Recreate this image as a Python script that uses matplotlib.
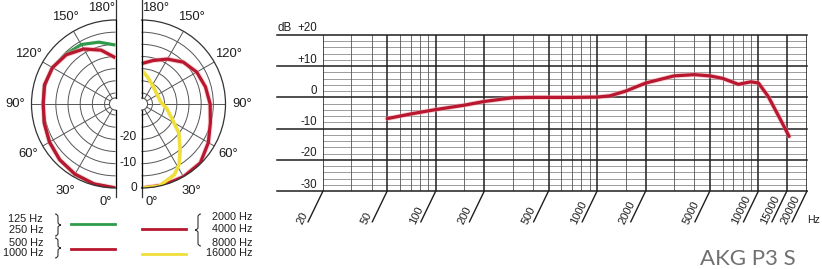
import numpy as np
import matplotlib
matplotlib.use("Agg")
import matplotlib.pyplot as plt
from matplotlib.lines import Line2D
from matplotlib.path import Path
from matplotlib.patches import PathPatch
from matplotlib.ticker import NullLocator

W, H = 822, 269

# frequency response (Hz, dB)
freq = [50, 70, 100, 150, 200, 300, 400, 500, 700, 1000, 1200, 1500, 2000,
        3000, 4000, 5000, 6000, 7500, 9000, 10000, 11500, 13500, 15500]
level = [-6.8, -5.3, -3.9, -2.5, -1.3, -0.1, 0, 0, 0, 0.1, 0.5, 2.0, 4.6,
         6.9, 7.3, 6.9, 6.1, 4.2, 5.0, 4.6, 0.3, -6.5, -12.5]

major_freqs = [20, 50, 100, 200, 500, 1000, 2000, 5000, 10000, 15000, 20000]
minor_freqs = [30, 40, 60, 70, 80, 90, 150, 300, 400, 600, 700, 800, 900,
               1500, 3000, 4000, 6000, 7000, 8000, 9000]
db_major = [20, 10, 0, -10, -20, -30]
db_labels = ["+20", "+10", "0", "-10", "-20", "-30"]

# polar patterns (angle in degrees from front, level in dB)
ang_left = [0, 15, 30, 45, 60, 75, 90, 105, 120, 135, 150, 165, 180]
db_125_250 = [0, -0.5, -1.2, -2.1, -3.2, -4.2, -4.8, -4.3, -4.6, -5.6, -6.3, -8.2, -10.3]
db_500_1000 = [0, -0.5, -1.2, -2.1, -3.2, -4.2, -4.8, -4.3, -4.6, -5.9, -8.4, -11.6, -15.5]
ang_right = [0, 15, 30, 45, 60, 75, 90, 105, 120, 135, 150, 165, 180]
db_2k_8k = [0, 0, 0, -0.3, -2.8, -5.2, -6.3, -7.3, -8.3, -10.2, -13.2, -16.0, -17.9]
ang_16k = [0, 12, 25, 32, 40, 52, 63, 80, 95, 110, 130, 150, 168, 180]
db_16k = [0, 0, -2.5, -5.3, -9.8, -15, -20.2, -24, -26.5, -27, -26.8, -25.5, -23, -20.5]

RED = "#b8172f"
GREEN = "#2e9a4a"
YELLOW = "#f0df3a"
INK = "#1e1e1e"

plt.rcParams['font.family'] = ['Liberation Sans', 'DejaVu Sans']

fig = plt.figure(figsize=(W / 100, H / 100), dpi=100)
fig.patch.set_facecolor("white")


def fx(x):
    return x / W


def fy(y):
    return 1 - y / H


# ---------- polar diagrams ----------
R = 84
def make_polar(cx, cy, direction):
    frac = 0.75 if direction == -1 else 0.25
    left = cx - frac * 2 * R
    ax = fig.add_axes([fx(left), fy(cy + R), 2 * R / W, 2 * R / H], projection="polar")
    ax.set_theta_zero_location("S")
    ax.set_theta_direction(direction)
    ax.set_thetamin(0)
    ax.set_thetamax(180)
    ax.set_rorigin(-34.5)
    ax.set_rlim(-32, 0)
    ax.set_rgrids([-30, -25, -20, -15, -10, -5], labels=[])
    ax.set_thetagrids([30, 60, 90, 120, 150], labels=[])
    ax.grid(color="#555555", lw=0.7)
    ax.spines["polar"].set_color("#333333")
    ax.spines["polar"].set_linewidth(0.9)
    ax.spines["inner"].set_color("#555555")
    ax.spines["start"].set_visible(False)
    ax.spines["end"].set_visible(False)
    ax.patch.set_alpha(0)
    ax.plot([0, 0], [-32, 3.7], color="#333333", lw=0.9, clip_on=False)
    ax.plot([np.pi, np.pi], [-32, 8.2], color="#333333", lw=0.9, clip_on=False)
    for a in [30, 60, 90, 120, 150]:
        ax.text(np.radians(a), 6.8, f"{a}°", ha="center", va="center",
                fontsize=9.4, color=INK, clip_on=False)
    return ax


axl = make_polar(115.5, 104, -1)
axl.plot(np.radians(ang_left), db_125_250, color=GREEN, lw=2.3, solid_capstyle="butt")
axl.plot(np.radians(ang_left), db_500_1000, color="#f2a0a8", lw=3.6, alpha=0.5)
axl.plot(np.radians(ang_left), db_500_1000, color=RED, lw=2.3, solid_capstyle="butt")

axr = make_polar(141.5, 104, 1)
axr.plot(np.radians(ang_right), db_2k_8k, color="#f2a0a8", lw=3.6, alpha=0.5)
axr.plot(np.radians(ang_right), db_2k_8k, color=RED, lw=2.3, solid_capstyle="butt")
axr.plot(np.radians(ang_16k), db_16k, color=YELLOW, lw=2.6, solid_capstyle="butt")

fig.text(fx(102), fy(8), "180°", ha="center", va="center", fontsize=9.4, color=INK)
fig.text(fx(106), fy(202), "0°", ha="center", va="center", fontsize=9.4, color=INK)
fig.text(fx(156), fy(8), "180°", ha="center", va="center", fontsize=9.4, color=INK)
fig.text(fx(152), fy(202), "0°", ha="center", va="center", fontsize=9.4, color=INK)
for v, yy in zip(["-20", "-10", "0"], [137, 163, 188]):
    fig.text(fx(137), fy(yy), v, ha="right", va="center", fontsize=8.6, color=INK)

# ---------- legend ----------
for txt, yy in zip(["125 Hz", "250 Hz", "500 Hz", "1000 Hz"], [219, 230, 243, 253]):
    fig.text(fx(43), fy(yy), txt, ha="right", va="center", fontsize=7.8, color=INK)
for txt, yy in zip(["2000 Hz", "4000 Hz", "8000 Hz", "16000 Hz"], [217, 229, 243, 253]):
    fig.text(fx(252), fy(yy), txt, ha="right", va="center", fontsize=7.8, color=INK)

for x0, x1, yy, c in [(71, 115, 224, GREEN), (71, 115, 249, RED),
                      (142, 186, 229, RED), (142, 186, 254, YELLOW)]:
    fig.add_artist(Line2D([fx(x0), fx(x1)], [fy(yy), fy(yy)], color=c, lw=2.0))


def brace(x, y0, y1, w, s):
    ym = (y0 + y1) / 2
    r = 3
    h = x + s * w / 2
    pts = [(x, y0), (h, y0), (h, y0 + r), (h, ym - r), (h, ym), (x + s * w, ym),
           (h, ym), (h, ym + r), (h, y1 - r), (h, y1), (x, y1)]
    codes = [Path.MOVETO, Path.CURVE3, Path.CURVE3, Path.LINETO, Path.CURVE3, Path.CURVE3,
             Path.CURVE3, Path.CURVE3, Path.LINETO, Path.CURVE3, Path.CURVE3]
    pts = [(fx(a), fy(b)) for a, b in pts]
    fig.add_artist(PathPatch(Path(pts, codes), fill=False, lw=0.8, ec="#333333",
                             transform=fig.transFigure))


brace(55, 214, 236, 6, 1)
brace(55, 238, 258, 6, 1)
brace(201, 214, 246, 6, -1)

# ---------- frequency response ----------
ax = fig.add_axes([fx(323), fy(191), 484 / W, 156 / H])
ax.set_xscale("log")
ax.set_xlim(20, 20000)
ax.set_ylim(-30, 20)
ax.set_xticks([])
ax.set_yticks([])
ax.xaxis.set_minor_locator(NullLocator())
ax.yaxis.set_minor_locator(NullLocator())
for s in ax.spines.values():
    s.set_visible(False)
ax.patch.set_alpha(0)

for v in range(-28, 20, 2):
    if v % 10:
        ax.axhline(v, color="#8c8c8c", lw=0.6)
for f in minor_freqs:
    ax.axvline(f, color="#555555", lw=0.6)
for f in major_freqs:
    ax.axvline(f, color=INK, lw=1.1)
ytr = ax.get_yaxis_transform()
for v, lab in zip(db_major, db_labels):
    ax.plot([-46 / 484, 1], [v, v], transform=ytr, color=INK, lw=1.1, clip_on=False)
    ax.annotate(lab, xy=(0, v), xycoords=ytr, xytext=(-6, 3.5), textcoords="offset pixels",
                ha="right", va="baseline", fontsize=8.3, color=INK)
ax.annotate("dB", xy=(0, 20), xycoords=ytr, xytext=(-46, 3.5), textcoords="offset pixels",
            ha="left", va="baseline", fontsize=8.3, color=INK)

xtr = ax.get_xaxis_transform()
for f in major_freqs:
    ax.annotate("", xy=(f, 0), xycoords=xtr, xytext=(-15, -31), textcoords="offset pixels",
                arrowprops=dict(arrowstyle="-", lw=1.0, color=INK, shrinkA=0, shrinkB=0))
    ax.annotate(str(f), xy=(f, 0), xycoords=xtr, xytext=(-21, -34), textcoords="offset pixels",
                rotation=64, rotation_mode="anchor", ha="left", va="baseline",
                fontsize=8.0, color=INK)
fig.text(fx(807), fy(220), "Hz", ha="left", va="center", fontsize=7.6, color=INK)

ax.plot(freq, level, color="#f2a0a8", lw=3.6, alpha=0.5, solid_capstyle="round")
ax.plot(freq, level, color=RED, lw=2.3, solid_capstyle="round")

fig.text(fx(700), fy(265), "AKG P3 S", ha="left", va="baseline", fontsize=16,
         family=["Lato", "DejaVu Sans"], fontweight="normal", color="#707070")

fig.savefig("out.png", dpi=100)
